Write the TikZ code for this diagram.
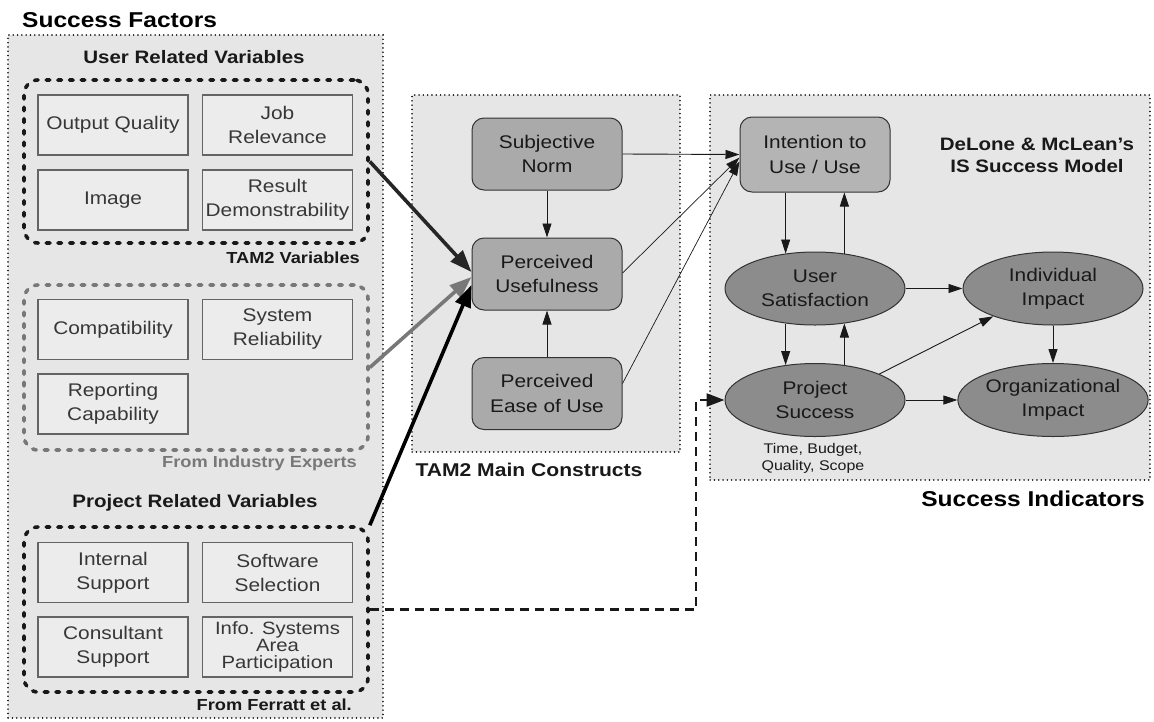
\documentclass[tikz,border=0pt]{standalone}
\usepackage{fontspec}
\setmainfont{Liberation Sans}[FakeStretch=1.14]
\usetikzlibrary{arrows.meta,shapes.geometric}
\definecolor{panelfill}{RGB}{230,230,230}
\definecolor{leaffill}{RGB}{236,236,236}
\definecolor{leafline}{RGB}{100,100,100}
\definecolor{leaftext}{RGB}{55,55,55}
\definecolor{constfill}{RGB}{170,170,170}
\definecolor{usefill}{RGB}{180,180,180}
\definecolor{ovalfill}{RGB}{140,140,140}
\definecolor{expgray}{RGB}{120,120,120}
\definecolor{inktext}{RGB}{25,25,25}
\begin{document}
\begin{tikzpicture}[x=1pt,y=-1pt,
  panel/.style={draw=black!85, line width=1.3pt, line cap=round, dash pattern=on 0.3pt off 4pt, fill=panelfill, inner sep=0pt},
  grp/.style={draw=black!90, line width=3.6pt, line cap=round, dash pattern=on 3.7pt off 8pt, rounded corners=14pt, inner sep=0pt},
  leaf/.style={draw=leafline, line width=1.1pt, fill=leaffill, minimum width=150pt, minimum height=60pt,
    inner sep=0pt, align=center, text=leaftext, font=\fontsize{18.3}{24}\selectfont},
  construct/.style={draw=black!80, line width=1pt, rounded corners=12pt, fill=constfill, minimum width=150pt,
    minimum height=72pt, inner sep=0pt, align=center, text=inktext, font=\fontsize{18.3}{24.5}\selectfont},
  oval/.style={ellipse, draw=black!80, line width=1pt, fill=ovalfill, minimum width=180pt, minimum height=73pt,
    inner sep=0pt, align=center, text=inktext, font=\fontsize{18.3}{24}\selectfont},
  head/.style={font=\bfseries\fontsize{18}{22}\selectfont, text=inktext, inner sep=0pt, align=center},
  subhead/.style={font=\bfseries\fontsize{16}{20}\selectfont, text=inktext, inner sep=0pt},
  title/.style={font=\bfseries\fontsize{21.5}{26}\selectfont, text=black, inner sep=0pt},
  thin/.style={-{Triangle[length=14pt,width=9pt]}, line width=0.9pt, draw=black!90},
  fat/.style={-{Triangle[length=22pt,width=16pt]}, line width=3.6pt},
  dashlink/.style={-{Triangle[length=18pt,width=13pt]}, line width=2.4pt, dash pattern=on 9pt off 6pt, draw=black!90}
]
\useasboundingbox (0,0) rectangle (1154,721);

% container panels
\node[panel, minimum width=375pt, minimum height=683pt] (sf) at (195.5,376.5) {};
\node[panel, minimum width=268pt, minimum height=357pt] (tmc) at (546,273.5) {};
\node[panel, minimum width=440pt, minimum height=385pt] (si) at (930,287.5) {};

% titles
\node[title, anchor=base west] (tsf) at (22,27) {Success Factors};
\node[title, anchor=east] (tsi) at (1145,499) {Success Indicators};
\node[head, font=\bfseries\fontsize{18.5}{22}\selectfont] (ttmc) at (529,470) {TAM2 Main Constructs};

% user related variables
\node[head] (hurv) at (194,57) {User Related Variables};
\node[grp, minimum width=344pt, minimum height=163pt] (tam) at (196,161.5) {};
\node[leaf] (oq) at (113,125) {Output Quality};
\node[leaf] (jr) at (277.5,125) {Job\\Relevance};
\node[leaf] (im) at (113,200) {Image};
\node[leaf] (rd) at (277.5,200) {Result\\Demonstrability};
\node[subhead, anchor=east] (ltam) at (360,258) {TAM2 Variables};

% industry experts
\node[grp, draw=expgray, minimum width=344pt, minimum height=165pt] (ind) at (196,367.5) {};
\node[leaf] (cp) at (113,329.5) {Compatibility};
\node[leaf] (sr) at (277.5,329.5) {System\\Reliability};
\node[leaf] (rc) at (113,404) {Reporting\\Capability};
\node[subhead, anchor=east, text=expgray] (lind) at (357,463) {From Industry Experts};

% project related variables
\node[head] (hprv) at (195,503) {Project Related Variables};
\node[grp, minimum width=344pt, minimum height=165pt] (prj) at (196,609.5) {};
\node[leaf] (is) at (113,572.5) {Internal\\Support};
\node[leaf] (ss) at (277.5,572.5) {Software\\Selection};
\node[leaf] (cs) at (113,647) {Consultant\\Support};
\node[leaf, font=\fontsize{17.8}{17}\selectfont] (ia) at (277.5,647) {Info. Systems\\Area\\Participation};
\node[subhead, anchor=east] (lfer) at (352,705) {From Ferratt et al.};

% TAM2 main constructs
\node[construct] (sn) at (547,154) {Subjective\\Norm};
\node[construct] (pu) at (547,274) {Perceived\\Usefulness};
\node[construct] (peou) at (547,393.5) {Perceived\\Ease of Use};

% IS success model
\node[construct, fill=usefill, minimum height=75pt] (itu) at (815,154.5) {Intention to\\Use / Use};
\node[head] (hdm) at (1037,155) {DeLone \& McLean’s\\IS Success Model};
\node[oval] (us) at (815,288.5) {User\\Satisfaction};
\node[oval] (ii) at (1053,288.5) {Individual\\Impact};
\node[oval] (ps) at (815,400) {Project\\Success};
\node[oval] (oi) at (1053,400) {Organizational\\Impact};
\node[font=\fontsize{14}{17}\selectfont, align=center, inner sep=0pt, text=inktext] (tbq) at (813,458) {Time, Budget,\\Quality, Scope};

% influences on perceived usefulness
\draw[fat, draw=black!85] (tam.east) -- ([yshift=2pt]pu.west);
\draw[fat, draw=expgray] (ind.east) -- ([yshift=-3pt]pu.west);
\draw[fat, draw=black] (prj.north east) -- ([yshift=-11pt]pu.west);

% TAM2 relations
\draw[thin] (sn.south) -- (pu.north);
\draw[thin] (peou.north) -- (pu.south);
\draw[thin] (sn.east) -- (itu.west);
\draw[thin, line width=0.7pt] ([yshift=1pt]pu.east) -- ([yshift=-3pt]itu.west);
\draw[thin, line width=0.7pt] ([yshift=10pt]peou.east) -- ([yshift=-7pt]itu.west);

% IS success model relations
\draw[thin] (itu.south -| us.130) -- (us.130);
\draw[thin] (us.50) -- (us.50 |- itu.south);
\draw[thin] (us.230) -- (ps.130);
\draw[thin] (ps.50) -- (us.310);
\draw[thin] (us.east) -- (ii.west);
\draw[thin] (ps.east) -- (oi.west);
\draw[thin] (ii.south) -- (oi.north);
\draw[thin] (ps.22) -- (ii.205);

% project variables to project success
\coordinate (bend) at (696,0);
\draw[dashlink] (prj.east) -| (bend |- ps.west) -- (ps.west);
\end{tikzpicture}
\end{document}
